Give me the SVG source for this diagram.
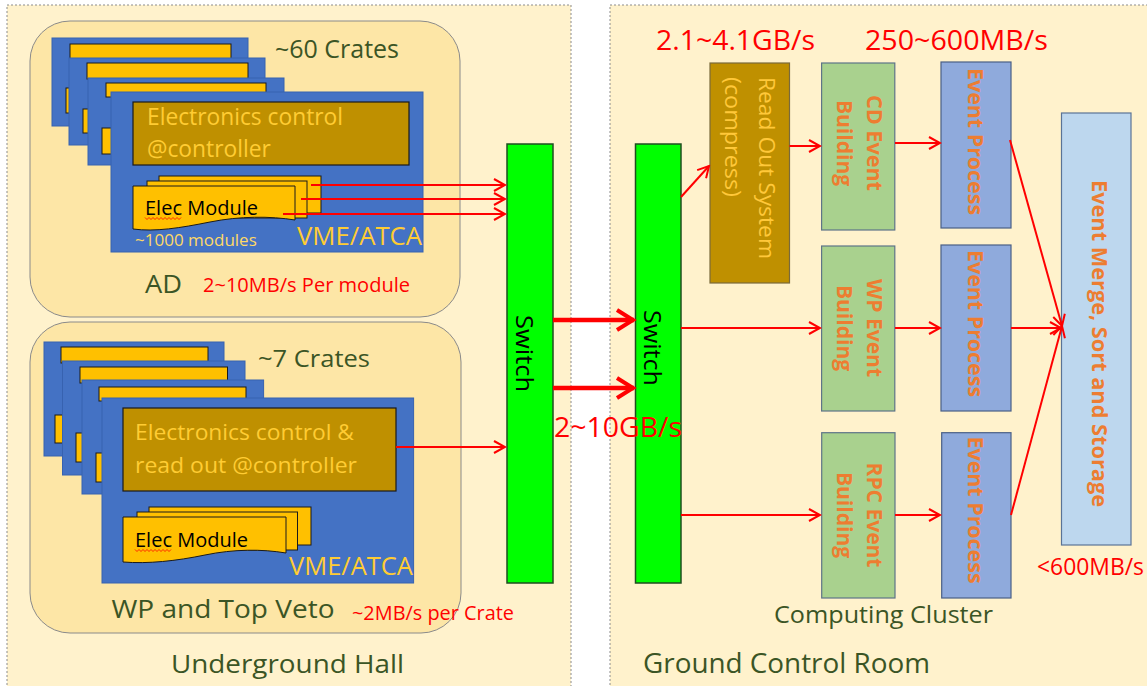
<svg xmlns="http://www.w3.org/2000/svg" width="1147" height="686" viewBox="0 0 1147 686">
<defs>
<style>
.t{font-family:"Open Sans","Liberation Sans",sans-serif;}
.g{fill:#3B5525;}
.r{fill:#FF0000;}
.y{fill:#FFCC33;}
.ym{fill:#FFD966;}
.k{fill:#000;}
.o{fill:#ED7D31;font-weight:bold;}
.oy{fill:#FFC83A;}
.panel{fill:#FFF2CC;stroke:#8c8c8c;stroke-width:1;stroke-dasharray:2 2;}
.grp{fill:#FDE6A6;stroke:#8a8a8a;stroke-width:1;}
.crate{fill:#4472C4;stroke:#3762B0;stroke-width:1;}
.strip{fill:#FFC000;stroke:#1a1a1a;stroke-width:1;}
.brown{fill:#BF9000;stroke:#1a1a1a;stroke-width:1.2;}
.ros{fill:#BF9000;stroke:#7a6a3a;stroke-width:1.2;}
.mod{fill:#FFC000;stroke:#1a1a1a;stroke-width:1;}
.sw{fill:#00FF00;stroke:#1F4E1F;stroke-width:1.5;}
.eb{fill:#A9D18E;stroke:#5E7488;stroke-width:1.2;}
.ep{fill:#8FAADC;stroke:#4A5F85;stroke-width:1.2;}
.mg{fill:#BDD7EE;stroke:#5A7396;stroke-width:1.2;}
.c{stroke:#FF0000;stroke-width:2;fill:none;marker-end:url(#a);}
.ct{stroke:#FF0000;stroke-width:4.5;fill:none;marker-end:url(#ab);}
.sq{stroke:#FF0000;stroke-width:0.8;fill:none;}
</style>
<marker id="a" viewBox="0 0 14 14" refX="12" refY="7" markerWidth="14" markerHeight="14" markerUnits="userSpaceOnUse" orient="auto">
<path d="M1,1 L12,7 L1,13" fill="none" stroke="#FF0000" stroke-width="2"/>
</marker>
<marker id="ab" viewBox="0 0 22 24" refX="19" refY="12" markerWidth="22" markerHeight="24" markerUnits="userSpaceOnUse" orient="auto">
<path d="M2,2 L18,12 L2,22" fill="none" stroke="#FF0000" stroke-width="4"/>
</marker>
</defs>
<rect x="0" y="0" width="1147" height="686" fill="#FFFFFF"/>

<g id="panel-underground">
<rect class="panel" x="7" y="5" width="564" height="700"/>
<text class="t g" x="171" y="673" font-size="26" textLength="233" lengthAdjust="spacingAndGlyphs">Underground Hall</text>
</g>
<g id="panel-ground">
<rect class="panel" x="610" y="5" width="560" height="700"/>
<text class="t g" x="643" y="673" font-size="26.5" textLength="287" lengthAdjust="spacingAndGlyphs">Ground Control Room</text>
<text class="t g" x="774" y="623" font-size="24" textLength="219" lengthAdjust="spacingAndGlyphs">Computing Cluster</text>
</g>

<g id="ad-group">
<rect class="grp" x="30" y="21" width="430" height="296" rx="40" ry="40"/>
<rect class="crate" x="52" y="38" width="196" height="88"/>
<rect class="strip" x="70" y="44" width="161" height="16"/>
<rect class="mod" x="66" y="88" width="10" height="25"/>
<rect class="crate" x="69" y="58" width="196" height="87"/>
<rect class="strip" x="87" y="63" width="161" height="16"/>
<rect class="mod" x="83" y="109" width="10" height="24"/>
<rect class="crate" x="88" y="78" width="196" height="87"/>
<rect class="strip" x="106" y="83" width="160" height="14"/>
<rect class="mod" x="102" y="128" width="12" height="26"/>
<rect class="crate" x="111" y="92" width="312" height="160"/>
<rect class="brown" x="133" y="102" width="276" height="63"/>
<text class="t y" x="147" y="125" font-size="22.8" textLength="196" lengthAdjust="spacingAndGlyphs">Electronics control</text>
<text class="t y" x="147" y="157" font-size="22.8">@controller</text>
<rect class="mod" x="159" y="176" width="162" height="37"/>
<rect class="mod" x="147" y="181" width="160" height="37"/>
<path class="mod" d="M133,186 H295 V220 C270,216 240,216 210,222 C180,228 155,232 133,229 Z"/>
<text class="t k" x="145" y="215" font-size="20">Elec Module</text>
<path class="sq" d="M145,217.5 l2,2 l2,-2 l2,2 l2,-2 l2,2 l2,-2 l2,2 l2,-2 l2,2 l2,-2 l2,2 l2,-2 l2,2 l2,-2 l2,2 l2,-2 l2,2 l2,-2"/>
<text class="t ym" x="135" y="246" font-size="17">~1000 modules</text>
<text class="t y" x="297" y="245" font-size="25" textLength="125" lengthAdjust="spacingAndGlyphs">VME/ATCA</text>
<text class="t g" x="275" y="58" font-size="25" textLength="124" lengthAdjust="spacingAndGlyphs">~60 Crates</text>
<text class="t g" x="145" y="293" font-size="25" textLength="37" lengthAdjust="spacingAndGlyphs">AD</text>
<text class="t r" x="203" y="292" font-size="20" textLength="207" lengthAdjust="spacingAndGlyphs">2~10MB/s Per module</text>
</g>

<g id="wp-group">
<rect class="grp" x="30" y="322" width="431" height="311" rx="40" ry="40"/>
<rect class="crate" x="44" y="342" width="180" height="114"/>
<rect class="strip" x="61" y="347" width="147" height="16"/>
<rect class="mod" x="55" y="415" width="10" height="28"/>
<rect class="crate" x="62.5" y="361" width="182.5" height="114"/>
<rect class="strip" x="80" y="367" width="147.5" height="16"/>
<rect class="mod" x="76" y="433" width="10" height="29"/>
<rect class="crate" x="82" y="380" width="181.6" height="114"/>
<rect class="strip" x="99" y="387" width="147" height="14"/>
<rect class="mod" x="96" y="453" width="10" height="29"/>
<rect class="crate" x="102" y="398" width="311.6" height="185"/>
<rect class="brown" x="123" y="408" width="273" height="83"/>
<text class="t y" x="135" y="440" font-size="22.7" textLength="219" lengthAdjust="spacingAndGlyphs">Electronics control &amp;</text>
<text class="t y" x="135" y="473" font-size="22.7" textLength="222" lengthAdjust="spacingAndGlyphs">read out @controller</text>
<rect class="mod" x="149" y="507" width="162" height="38"/>
<rect class="mod" x="137" y="512" width="160.5" height="38"/>
<path class="mod" d="M123,517 H286 V553 C262,549 234,549 205,555 C176,561 148,564 123,562 Z"/>
<text class="t k" x="135" y="547" font-size="20">Elec Module</text>
<path class="sq" d="M135,549.5 l2,2 l2,-2 l2,2 l2,-2 l2,2 l2,-2 l2,2 l2,-2 l2,2 l2,-2 l2,2 l2,-2 l2,2 l2,-2 l2,2 l2,-2 l2,2 l2,-2"/>
<text class="t y" x="289" y="575" font-size="25" textLength="124" lengthAdjust="spacingAndGlyphs">VME/ATCA</text>
<text class="t g" x="258" y="367" font-size="24" textLength="112" lengthAdjust="spacingAndGlyphs">~7 Crates</text>
<text class="t g" x="111.5" y="618" font-size="25" textLength="223" lengthAdjust="spacingAndGlyphs">WP and Top Veto</text>
<text class="t r" x="352" y="620" font-size="20" textLength="162" lengthAdjust="spacingAndGlyphs">~2MB/s per Crate</text>
</g>

<g id="switch-1">
<rect class="sw" x="507" y="144" width="46" height="439"/>
<text class="t k" font-size="24" text-anchor="middle" transform="translate(516,353.5) rotate(90)" textLength="77" lengthAdjust="spacingAndGlyphs">Switch</text>
</g>
<g id="switch-2">
<rect class="sw" x="635.5" y="144" width="45.5" height="439"/>
<text class="t k" font-size="24" text-anchor="middle" transform="translate(644,348) rotate(90)" textLength="76" lengthAdjust="spacingAndGlyphs">Switch</text>
</g>

<g id="readout-system">
<rect class="ros" x="710" y="63" width="79.5" height="220"/>
<text class="t oy" font-size="22" transform="translate(758.5,77) rotate(90)" textLength="182" lengthAdjust="spacingAndGlyphs">Read Out System</text>
<text class="t oy" font-size="22" transform="translate(725,77) rotate(90)" textLength="120" lengthAdjust="spacingAndGlyphs">(compress)</text>
</g>
<g id="cd-event-building">
<rect class="eb" x="821.6" y="63" width="73.2" height="167"/>
<text class="t o" font-size="21" text-anchor="middle" transform="translate(866.5,143) rotate(90)" textLength="96" lengthAdjust="spacingAndGlyphs">CD Event</text>
<text class="t o" font-size="21" text-anchor="middle" transform="translate(837,143) rotate(90)">Building</text>
</g>
<g id="wp-event-building">
<rect class="eb" x="821.6" y="246" width="73.2" height="165"/>
<text class="t o" font-size="21" text-anchor="middle" transform="translate(866.5,328) rotate(90)">WP Event</text>
<text class="t o" font-size="21" text-anchor="middle" transform="translate(837,328) rotate(90)">Building</text>
</g>
<g id="rpc-event-building">
<rect class="eb" x="821.7" y="432.7" width="73.3" height="165.3"/>
<text class="t o" font-size="21" text-anchor="middle" transform="translate(866.5,515) rotate(90)">RPC Event</text>
<text class="t o" font-size="21" text-anchor="middle" transform="translate(837,515) rotate(90)">Building</text>
</g>
<g id="event-process-1">
<rect class="ep" x="941" y="62" width="70" height="166"/>
<text class="t o" font-size="21" text-anchor="middle" transform="translate(968,141.5) rotate(90)" textLength="147" lengthAdjust="spacingAndGlyphs">Event Process</text>
</g>
<g id="event-process-2">
<rect class="ep" x="941" y="245" width="70" height="166"/>
<text class="t o" font-size="21" text-anchor="middle" transform="translate(968,323.5) rotate(90)" textLength="147" lengthAdjust="spacingAndGlyphs">Event Process</text>
</g>
<g id="event-process-3">
<rect class="ep" x="941.7" y="432.7" width="69.3" height="165.3"/>
<text class="t o" font-size="21" text-anchor="middle" transform="translate(968,510) rotate(90)" textLength="147" lengthAdjust="spacingAndGlyphs">Event Process</text>
</g>
<g id="event-merge">
<rect class="mg" x="1061.5" y="113" width="69.5" height="432"/>
<text class="t o" font-size="22" text-anchor="middle" transform="translate(1091.5,343.5) rotate(90)" textLength="327" lengthAdjust="spacingAndGlyphs">Event Merge, Sort and Storage</text>
</g>

<g id="rate-labels">
<text class="t r" x="554" y="437" font-size="27" textLength="128" lengthAdjust="spacingAndGlyphs">2~10GB/s</text>
<text class="t r" x="656" y="50" font-size="27" textLength="159" lengthAdjust="spacingAndGlyphs">2.1~4.1GB/s</text>
<text class="t r" x="865" y="50" font-size="27" textLength="183" lengthAdjust="spacingAndGlyphs">250~600MB/s</text>
<text class="t r" x="1037" y="575" font-size="23" textLength="107" lengthAdjust="spacingAndGlyphs">&lt;600MB/s</text>
</g>

<g id="connectors">
<path class="c" d="M311,185 H505"/>
<path class="c" d="M301,199 H505"/>
<path class="c" d="M283,214 H505"/>
<path class="c" d="M396,447 H505"/>
<path class="ct" d="M553,320 H634"/>
<path class="ct" d="M553,388 H634"/>
<path class="c" d="M681,197 L709,166"/>
<path class="c" d="M789.5,146 H820"/>
<path class="c" d="M895,143 H940"/>
<path class="c" d="M1010,140 L1062,326"/>
<path class="c" d="M681,328 H820"/>
<path class="c" d="M895,328 H940"/>
<path class="c" d="M1011,328 H1061"/>
<path class="c" d="M681,515 H820"/>
<path class="c" d="M895,515 H940"/>
<path class="c" d="M1011,515 L1062,326"/>
</g>
</svg>
